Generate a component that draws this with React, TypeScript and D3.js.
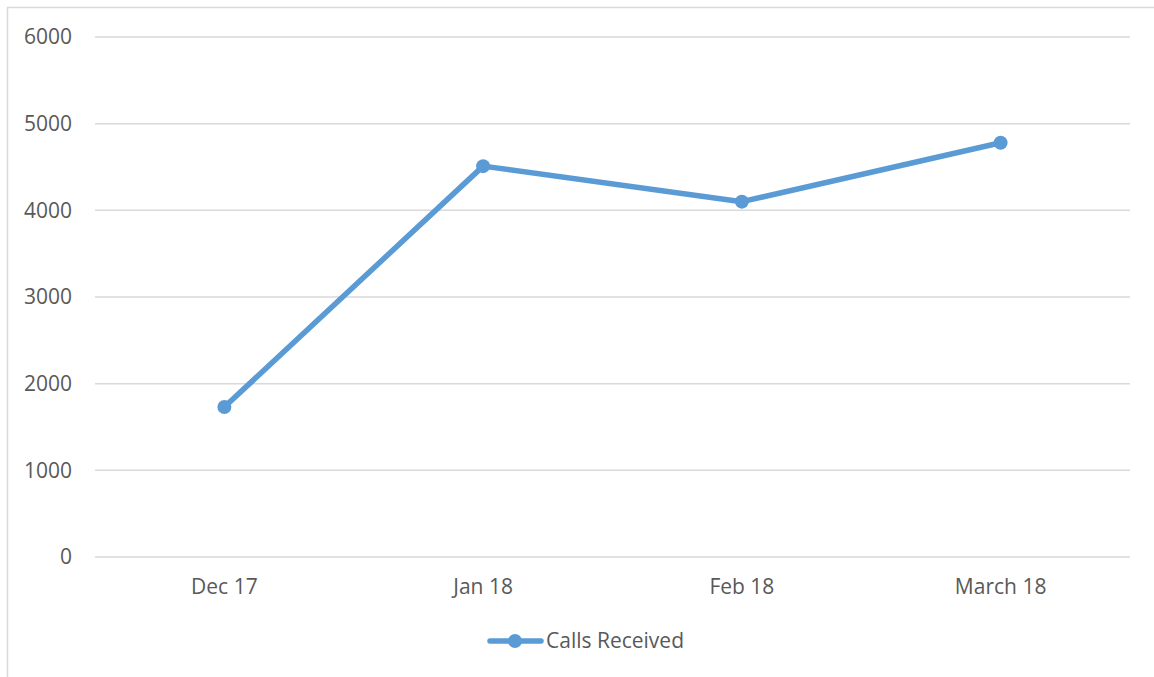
import React from "react";
import * as d3 from "d3";

const categories = ["Dec 17", "Jan 18", "Feb 18", "March 18"];
const callsReceived = [1730, 4510, 4100, 4780];
const yTicks = [0, 1000, 2000, 3000, 4000, 5000, 6000];
const seriesName = "Calls Received";

const W = 1154;
const H = 677;
const FONT = "'Open Sans', 'Liberation Sans', sans-serif";
const COLOR = "#5B9BD5";
const TEXT = "#595959";
const FS = 21;

export default function App() {
  const x = d3.scaleBand<string>().domain(categories).range([95, 1130]);
  const y = d3.scaleLinear().domain([0, 6000]).range([557, 37]);
  const line = d3
    .line<number>()
    .x((_, i) => (x(categories[i]) as number) + x.bandwidth() / 2)
    .y((d) => y(d));

  return (
    <svg
      width={W}
      height={H}
      style={{ position: "absolute", left: 0, top: 0, background: "#fff" }}
    >
      <rect x={7.5} y={7.5} width={W + 10} height={H + 10} fill="#fff" stroke="#d9d9d9" strokeWidth={1.5} />
      {yTicks.map((t) => (
        <g key={t}>
          <line x1={95} x2={1130} y1={y(t)} y2={y(t)} stroke="#d9d9d9" strokeWidth={1.5} />
          <text
            x={72}
            y={y(t)}
            dy="0.35em"
            textAnchor="end"
            fontFamily={FONT}
            fontSize={FS}
            fill={TEXT}
          >
            {t}
          </text>
        </g>
      ))}
      {categories.map((c) => (
        <text
          key={c}
          x={(x(c) as number) + x.bandwidth() / 2}
          y={594}
          textAnchor="middle"
          fontFamily={FONT}
          fontSize={FS}
          fill={TEXT}
        >
          {c}
        </text>
      ))}
      <path d={line(callsReceived) || ""} fill="none" stroke={COLOR} strokeWidth={5.5} strokeLinejoin="round" strokeLinecap="round" />
      {callsReceived.map((v, i) => (
        <circle
          key={i}
          cx={(x(categories[i]) as number) + x.bandwidth() / 2}
          cy={y(v)}
          r={7}
          fill={COLOR}
        />
      ))}
      <g>
        <line x1={490} x2={541} y1={641} y2={641} stroke={COLOR} strokeWidth={5.5} strokeLinecap="round" />
        <circle cx={515} cy={641} r={7} fill={COLOR} />
        <text x={546} y={641} dy="0.35em" fontFamily={FONT} fontSize={FS} fill={TEXT}>
          {seriesName}
        </text>
      </g>
    </svg>
  );
}
